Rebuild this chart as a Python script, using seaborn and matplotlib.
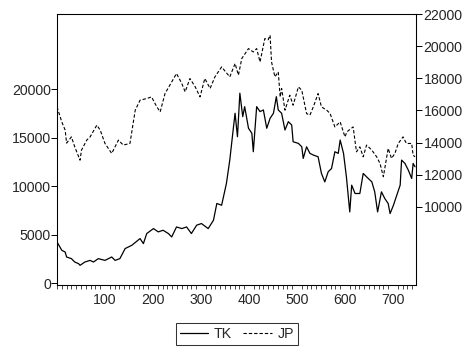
import matplotlib
matplotlib.use("Agg")
import matplotlib.pyplot as plt
from matplotlib.ticker import MultipleLocator
import seaborn as sns
import pandas as pd

sns.set_theme(style="white")
plt.rcParams['font.family'] = ['Liberation Sans', 'DejaVu Sans']

tk_idx = [0, 10, 17, 20, 30, 37, 45, 48, 58, 69, 76, 86, 100, 114, 121, 131, 142, 156, 173, 180,
          187, 201, 211, 221, 232, 239, 249, 260, 270, 280, 291, 301, 315, 326, 333, 343, 353, 360,
          367, 371, 376, 381, 387, 391, 399, 406, 409, 416, 423, 430, 437, 444, 451, 457, 461, 468,
          475, 482, 489, 492, 503, 510, 513, 520, 527, 534, 544, 551, 558, 565, 572, 579, 586, 590,
          597, 603, 610, 614, 621, 631, 638, 645, 656, 662, 668, 676, 683, 690, 694, 701, 708, 715,
          718, 725, 732, 739, 742, 746]
tk_val = [4240, 3380, 3200, 2690, 2520, 2170, 2000, 1830, 2170, 2340, 2170, 2520, 2340, 2690, 2340,
          2520, 3560, 3900, 4590, 4070, 5110, 5620, 5280, 5450, 5110, 4760, 5790, 5620, 5790, 5110,
          5970, 6140, 5620, 6480, 8210, 8030, 10280, 12690, 15790, 17520, 15100, 19590, 17170, 18200,
          15970, 15450, 13550, 18200, 17690, 17860, 15970, 17000, 17520, 19230, 17860, 17520, 15790,
          16650, 16310, 14580, 14410, 14060, 12860, 14060, 13380, 13210, 13030, 11310, 10440, 11480,
          11820, 13550, 13380, 14760, 13380, 10960, 7340, 10100, 9240, 9240, 11310, 10960, 10440,
          9410, 7340, 9410, 8720, 8210, 7170, 8030, 9070, 10100, 12690, 12340, 11650, 10790, 12340,
          12000]

jp_idx = [0, 10, 17, 20, 30, 37, 48, 51, 62, 69, 83, 90, 100, 114, 128, 138, 152, 163, 173, 187,
          197, 208, 215, 225, 235, 249, 260, 267, 277, 288, 298, 308, 319, 329, 343, 360, 371, 378,
          385, 399, 409, 416, 423, 433, 440, 444, 447, 454, 461, 465, 468, 475, 485, 492, 503, 510,
          520, 527, 534, 544, 551, 562, 569, 579, 590, 600, 604, 617, 624, 631, 638, 645, 656, 666,
          673, 680, 690, 697, 704, 711, 721, 728, 739, 742, 746]
jp_val = [16225, 15290, 14780, 13970, 14360, 13740, 12910, 13535, 14160, 14360, 15090, 14780, 13950,
          13330, 14160, 13850, 13950, 16020, 16640, 16745, 16845, 16225, 15915, 17050, 17570, 18300,
          17680, 17160, 17990, 17470, 16845, 17990, 17370, 18090, 18710, 18090, 18920, 18200, 19230,
          19850, 19640, 19850, 19020, 20470, 20400, 20680, 19020, 18090, 18400, 16845, 17370, 16020,
          16950, 16330, 17470, 17260, 15810, 15710, 16225, 17050, 16225, 16020, 15810, 14980, 15290,
          14360, 14670, 14980, 13430, 13740, 13120, 13850, 13535, 13120, 12710, 11880, 13640, 13020,
          13330, 13950, 14360, 13950, 13950, 13220, 13120]

left_ticks = [0, 5000, 10000, 15000, 20000]
right_ticks = [10000, 12000, 14000, 16000, 18000, 20000, 22000]
x_ticks = [100, 200, 300, 400, 500, 600, 700]

tk = pd.DataFrame({"obs": tk_idx, "value": tk_val})
jp = pd.DataFrame({"obs": jp_idx, "value": jp_val})

fig = plt.figure(figsize=(4.69, 3.49), dpi=100)
ax = fig.add_axes([57 / 469, 1 - 285 / 349, (416 - 57) / 469, (285 - 14) / 349])
ax2 = ax.twinx()

sns.lineplot(data=tk, x="obs", y="value", ax=ax, color="black", linewidth=0.9, label="TK", legend=False)
sns.lineplot(data=jp, x="obs", y="value", ax=ax2, color="black", linewidth=0.8,
             linestyle=(0, (3, 1.8)), label="JP", legend=False)

ax.set_xlim(0, 748)
ax.set_ylim(-200, 27760)
ax2.set_ylim(5150, 22000)

ax.set_xticks(x_ticks)
ax.xaxis.set_minor_locator(MultipleLocator(10))
ax.set_yticks(left_ticks)
ax2.set_yticks(right_ticks)
ax.set_xlabel("")
ax.set_ylabel("")
ax2.set_ylabel("")

for a in (ax, ax2):
    for s in a.spines.values():
        s.set_color("black")
        s.set_linewidth(0.75)
    a.grid(False)

fs = 10.2
ax.tick_params(axis="x", which="major", direction="out", length=5, width=0.7, color="black",
               labelsize=fs, pad=1)
ax.tick_params(axis="x", which="minor", direction="out", length=3, width=0.5, color="black", bottom=True)
ax.tick_params(axis="y", direction="out", length=4, width=0.7, color="black", labelsize=fs, pad=0.5,
               left=True)
ax2.tick_params(axis="y", direction="out", length=4, width=0.7, color="black", labelsize=fs, pad=1.5,
                right=True)

h1, l1 = ax.get_legend_handles_labels()
h2, l2 = ax2.get_legend_handles_labels()
leg = fig.legend(h1 + h2, l1 + l2, loc="center", bbox_to_anchor=(237 / 469, 1 - 334 / 349),
                 ncol=2, frameon=True, fancybox=False, fontsize=fs, handlelength=2.0,
                 columnspacing=0.8, handletextpad=0.4, borderpad=0.3, borderaxespad=0)
leg.get_frame().set_edgecolor("black")
leg.get_frame().set_linewidth(0.75)

fig.savefig("out.png", dpi=100)
